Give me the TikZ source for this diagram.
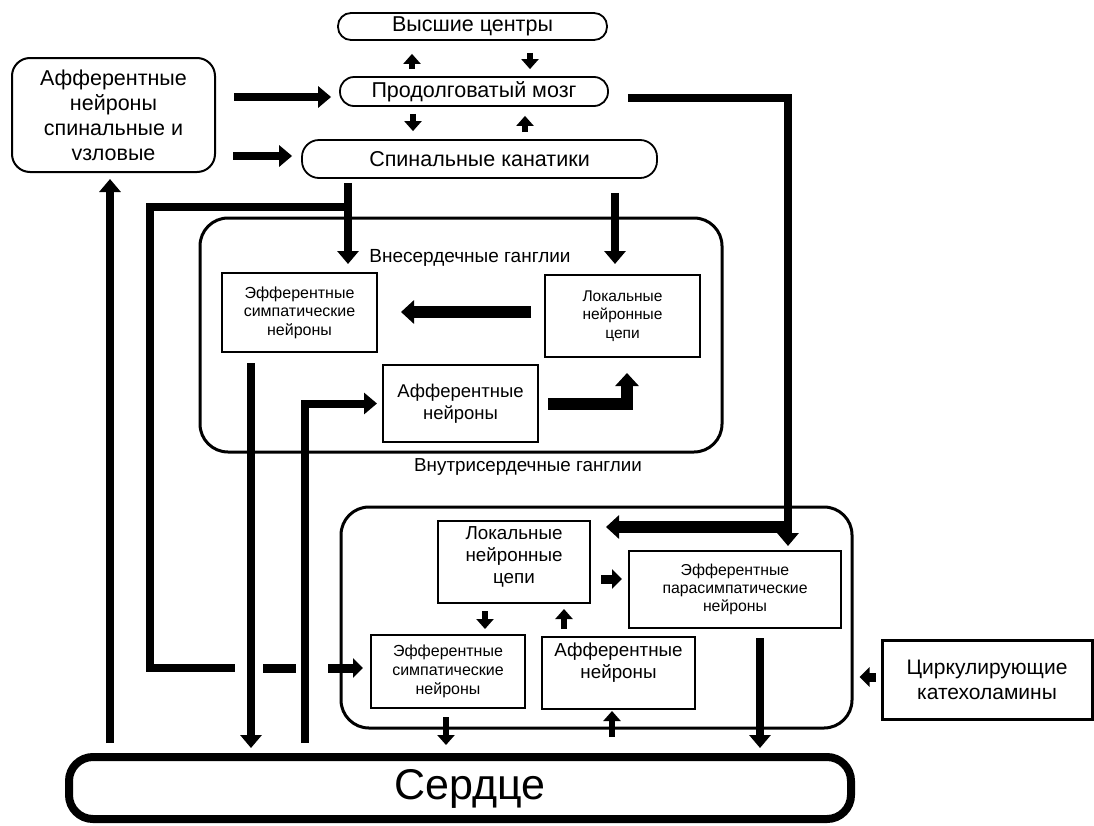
\documentclass[tikz,border=0pt]{standalone}
\usepackage{fontspec}
\setmainfont{Liberation Sans}
\usetikzlibrary{arrows.meta,calc}
\newcommand\myfs[2]{\fontsize{#1}{#2}\selectfont}
\begin{document}
\begin{tikzpicture}[x=1pt,y=-1pt,
  pill/.style={draw,line width=1.8pt,inner sep=0pt,font=\myfs{21.5}{24}},
  rbox/.style={draw,line width=2pt,inner sep=0pt,align=center},
  bigbox/.style={draw,line width=3pt,rounded corners=28pt,inner sep=0pt},
  lbl/.style={inner sep=0pt,align=center},
  conn/.style={line width=8pt,-{Triangle[length=13pt,width=21pt]}},
  fat/.style={line width=12pt,-{Triangle[length=13pt,width=23pt]}},
  sharr/.style={line width=6.5pt,-{Triangle[length=10pt,width=17pt]}},
  sfat/.style={line width=9pt,-{Triangle[length=10pt,width=19pt]}},
  plain/.style={line width=8pt}
]
\path[use as bounding box] (0,0) rectangle (1094,825);

% pills
\node[pill,rounded corners=13pt,minimum width=269pt,minimum height=27pt] (vc) at (472.5,26.5) {Высшие центры};
\node[pill,rounded corners=14pt,minimum width=268pt,minimum height=29pt] (pm) at (474,91.5) {Продолговатый мозг};
\node[pill,rounded corners=17pt,minimum width=355pt,minimum height=38pt] (sk) at (479.5,159) {Спинальные канатики};

% afferent spinal box
\node[rbox,rounded corners=18pt,minimum width=203pt,minimum height=114pt,font=\myfs{21.5}{25}] (aff) at (113.5,115)
  {Афферентные\\нейроны\\спинальные и\\vзловые};

% big ganglia boxes
\node[bigbox,minimum width=522pt,minimum height=234pt] (upbox) at (461,335) {};
\node[bigbox,minimum width=511pt,minimum height=221pt] (lowbox) at (596.5,617.5) {};

% heart
\node[draw,line width=8pt,rounded corners=24pt,minimum width=782pt,minimum height=62pt,inner sep=0pt] (heart) at (460,788) {};
\node[lbl,font=\myfs{43}{48}] (heartt) at (470,789) {Сердце};

% labels
\node[lbl,font=\myfs{19}{22}] (ext) at (470,258) {Внесердечные ганглии};
\node[lbl,font=\myfs{18.8}{22}] (intr) at (528,467) {Внутрисердечные ганглии};

% upper inner boxes
\node[rbox,minimum width=155pt,minimum height=79pt,font=\myfs{16}{18.5}] (es1) at (299.5,312.5)
  {Эфферентные\\симпатические\\нейроны};
\node[rbox,minimum width=155pt,minimum height=82pt,font=\myfs{15.5}{18.5}] (lc1) at (622.5,316)
  {Локальные\\нейронные\\цепи};
\node[rbox,minimum width=155pt,minimum height=77pt,font=\myfs{18.5}{22}] (af1) at (460.5,403.5)
  {Афферентные\\нейроны};

% lower inner boxes
\node[rbox,minimum width=152pt,minimum height=82pt] (lc2) at (514,562) {};
\node[lbl,font=\myfs{18.8}{22}] (lc2t) at (514,557) {Локальные\\нейронные\\цепи};
\node[rbox,minimum width=212pt,minimum height=77pt,font=\myfs{15.8}{18}] (pa) at (735,589.5)
  {Эфферентные\\парасимпатические\\нейроны};
\node[rbox,minimum width=154pt,minimum height=73pt,font=\myfs{16}{19}] (es2) at (448,671.5)
  {Эфферентные\\симпатические\\нейроны};
\node[rbox,minimum width=153pt,minimum height=72pt] (af2) at (618.5,673) {};
\node[lbl,font=\myfs{18.8}{22}] (af2t) at (618.5,663) {Афферентные\\нейроны};
\node[rbox,line width=3pt,minimum width=210pt,minimum height=79pt,font=\myfs{21}{25}] (circ) at (987,679.5)
  {Циркулирующие\\катехоламины};

% helper coordinates
\coordinate (Xa) at (412,0);
\coordinate (Xb) at (530,0);
\coordinate (Xc) at (413,0);
\coordinate (Xd) at (525,0);
\coordinate (Ya) at (0,97);
\coordinate (Yb) at (0,156);
\coordinate (Xr) at (788,0);
\coordinate (Yr) at (0,98);
\coordinate (Yq) at (0,527);
\coordinate (Xs) at (348,0);
\coordinate (Yl) at (0,207);
\coordinate (Xl) at (150,0);
\coordinate (g1) at (235,668);
\coordinate (g2) at (263,668);
\coordinate (g3) at (296,668);
\coordinate (g4) at (328,668);
\coordinate (Xt) at (615,0);
\coordinate (Yu) at (0,312);
\coordinate (Xv) at (627,0);
\coordinate (Xw) at (305,0);
\coordinate (Xx) at (251,0);
\coordinate (Xy) at (110,0);
\coordinate (Yz) at (0,579);
\coordinate (X1) at (485,0);
\coordinate (X2) at (564,0);
\coordinate (X3) at (446,0);
\coordinate (X4) at (612,0);
\coordinate (X5) at (760,0);
\coordinate (Yc) at (0,677);

% top short arrows
\draw[sharr,shorten <=7pt,shorten >=13pt] (pm.north -| Xa) -- (vc.south -| Xa);
\draw[sharr,shorten <=12pt,shorten >=7pt] (vc.south -| Xb) -- (pm.north -| Xb);
\draw[sharr,shorten <=7pt,shorten >=8pt] (pm.south -| Xc) -- (sk.north -| Xc);
\draw[sharr,shorten <=7pt,shorten >=9pt] (sk.north -| Xd) -- (pm.south -| Xd);

% afferent box to pills
\draw[conn,shorten <=18pt,shorten >=8pt] (aff.east |- Ya) -- (pm.west |- Ya);
\draw[conn,shorten <=17pt,shorten >=9pt] (aff.east |- Yb) -- (sk.west |- Yb);

% medulla to parasympathetic
\draw[conn,shorten <=19pt,shorten >=4pt] (pm.east |- Yr) -| (pa.north -| Xr);
\draw[fat,shorten >=15pt] (Xr |- Yq) -- (lc2.east |- Yq);

% spinal cords down
\draw[conn,shorten <=4pt,shorten >=8pt] (sk.south -| Xs) -- (es1.north -| Xs);
\draw[plain] (Xs |- Yl) -| (Xl |- g1) -- (g1);
\draw[line width=9pt] (g2) -- (g3);
\draw[sfat,shorten >=7pt] (g4) -- (es2.west |- g4);
\draw[conn,shorten <=14pt,shorten >=10pt] (sk.south -| Xt) -- (lc1.north -| Xt);

% upper ganglia internal
\draw[fat,shorten <=13pt,shorten >=23pt] (lc1.west |- Yu) -- (es1.east |- Yu);
\draw[fat,shorten <=9pt,shorten >=15pt] (af1.east) -| (lc1.south -| Xv);

% heart links
\draw[conn,shorten <=10pt,shorten >=5pt] (heart.north -| Xw) |- (af1.west);
\draw[conn,shorten <=10pt,shorten >=5pt] (es1.south -| Xx) -- (heart.north -| Xx);
\draw[conn,shorten <=10pt,shorten >=6pt] (heart.north -| Xy) -- (aff.south -| Xy);

% lower ganglia internal
\draw[sfat,shorten <=10pt,shorten >=6pt] (lc2.east |- Yz) -- (pa.west |- Yz);
\draw[sharr,shorten <=7pt,shorten >=5pt] (lc2.south -| X1) -- (es2.north -| X1);
\draw[sharr,shorten <=7pt,shorten >=5pt] (af2.north -| X2) -- (lc2.south -| X2);
\draw[sharr,shorten <=8pt,shorten >=8pt] (es2.south -| X3) -- (heart.north -| X3);
\draw[sharr,shorten <=16pt,shorten >=1pt] (heart.north -| X4) -- (af2.south -| X4);
\draw[conn,shorten <=9pt,shorten >=5pt] (pa.south -| X5) -- (heart.north -| X5);
\draw[sfat,shorten <=5pt,shorten >=6pt] (circ.west |- Yc) -- (lowbox.east |- Yc);
\end{tikzpicture}
\end{document}
